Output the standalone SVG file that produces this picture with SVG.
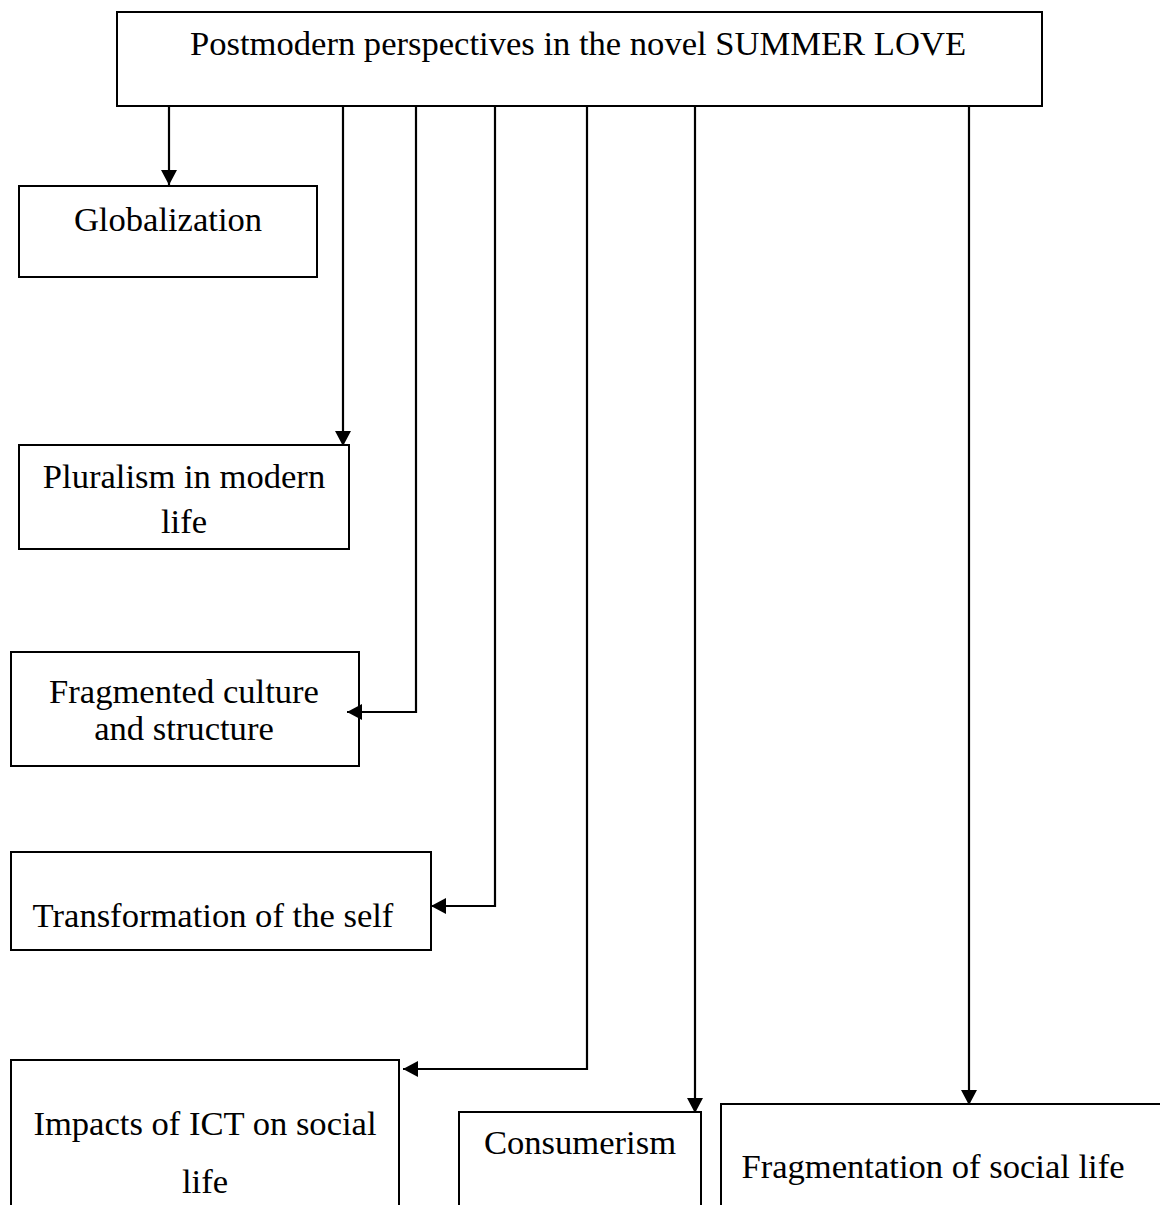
<svg xmlns="http://www.w3.org/2000/svg" width="1160" height="1205" viewBox="0 0 1160 1205">
<defs>
<marker id="arr" markerUnits="userSpaceOnUse" markerWidth="18" markerHeight="18" viewBox="0 0 18 18" refX="16" refY="9" orient="auto">
<path d="M1,1 L16,9 L1,17 Z" fill="#000"/>
</marker>
</defs>
<style>
.box{fill:#fff;stroke:#000;stroke-width:2}
.t{font-family:"Liberation Serif","Times New Roman",serif;font-size:34.6px;fill:#000;text-anchor:middle}
.c{fill:none;stroke:#000;stroke-width:2.2;marker-end:url(#arr)}
</style>
<rect width="1160" height="1205" fill="#fff"/>
<g id="n-root"><rect class="box" x="117" y="12" width="925" height="94"/><text class="t" x="578" y="55">Postmodern perspectives in the novel SUMMER LOVE</text></g>
<g id="n-glob"><rect class="box" x="19" y="186" width="298" height="91"/><text class="t" x="168" y="231">Globalization</text></g>
<g id="n-plur"><rect class="box" x="19" y="445" width="330" height="104"/><text class="t" x="184" y="488">Pluralism in modern</text><text class="t" x="184" y="533">life</text></g>
<g id="n-frag"><rect class="box" x="11" y="652" width="348" height="114"/><text class="t" x="184" y="703">Fragmented culture</text><text class="t" x="184" y="740">and structure</text></g>
<g id="n-trans"><rect class="box" x="11" y="852" width="420" height="98"/><text class="t" x="213" y="927">Transformation of the self</text></g>
<g id="n-ict"><rect class="box" x="11" y="1060" width="388" height="160"/><text class="t" x="205" y="1135">Impacts of ICT on social</text><text class="t" x="205" y="1193">life</text></g>
<g id="n-cons"><rect class="box" x="459" y="1112" width="242" height="110"/><text class="t" x="580" y="1154">Consumerism</text></g>
<g id="n-fsl"><rect class="box" x="721" y="1104" width="460" height="120"/><text class="t" x="933" y="1178">Fragmentation of social life</text></g>
<g id="connectors">
<path class="c" d="M169,106 V185"/>
<path class="c" d="M343,106 V446"/>
<path class="c" d="M416,106 V712 H347"/>
<path class="c" d="M495,106 V906 H431"/>
<path class="c" d="M587,106 V1069 H403"/>
<path class="c" d="M695,106 V1113"/>
<path class="c" d="M969,106 V1105"/>
</g>
</svg>
